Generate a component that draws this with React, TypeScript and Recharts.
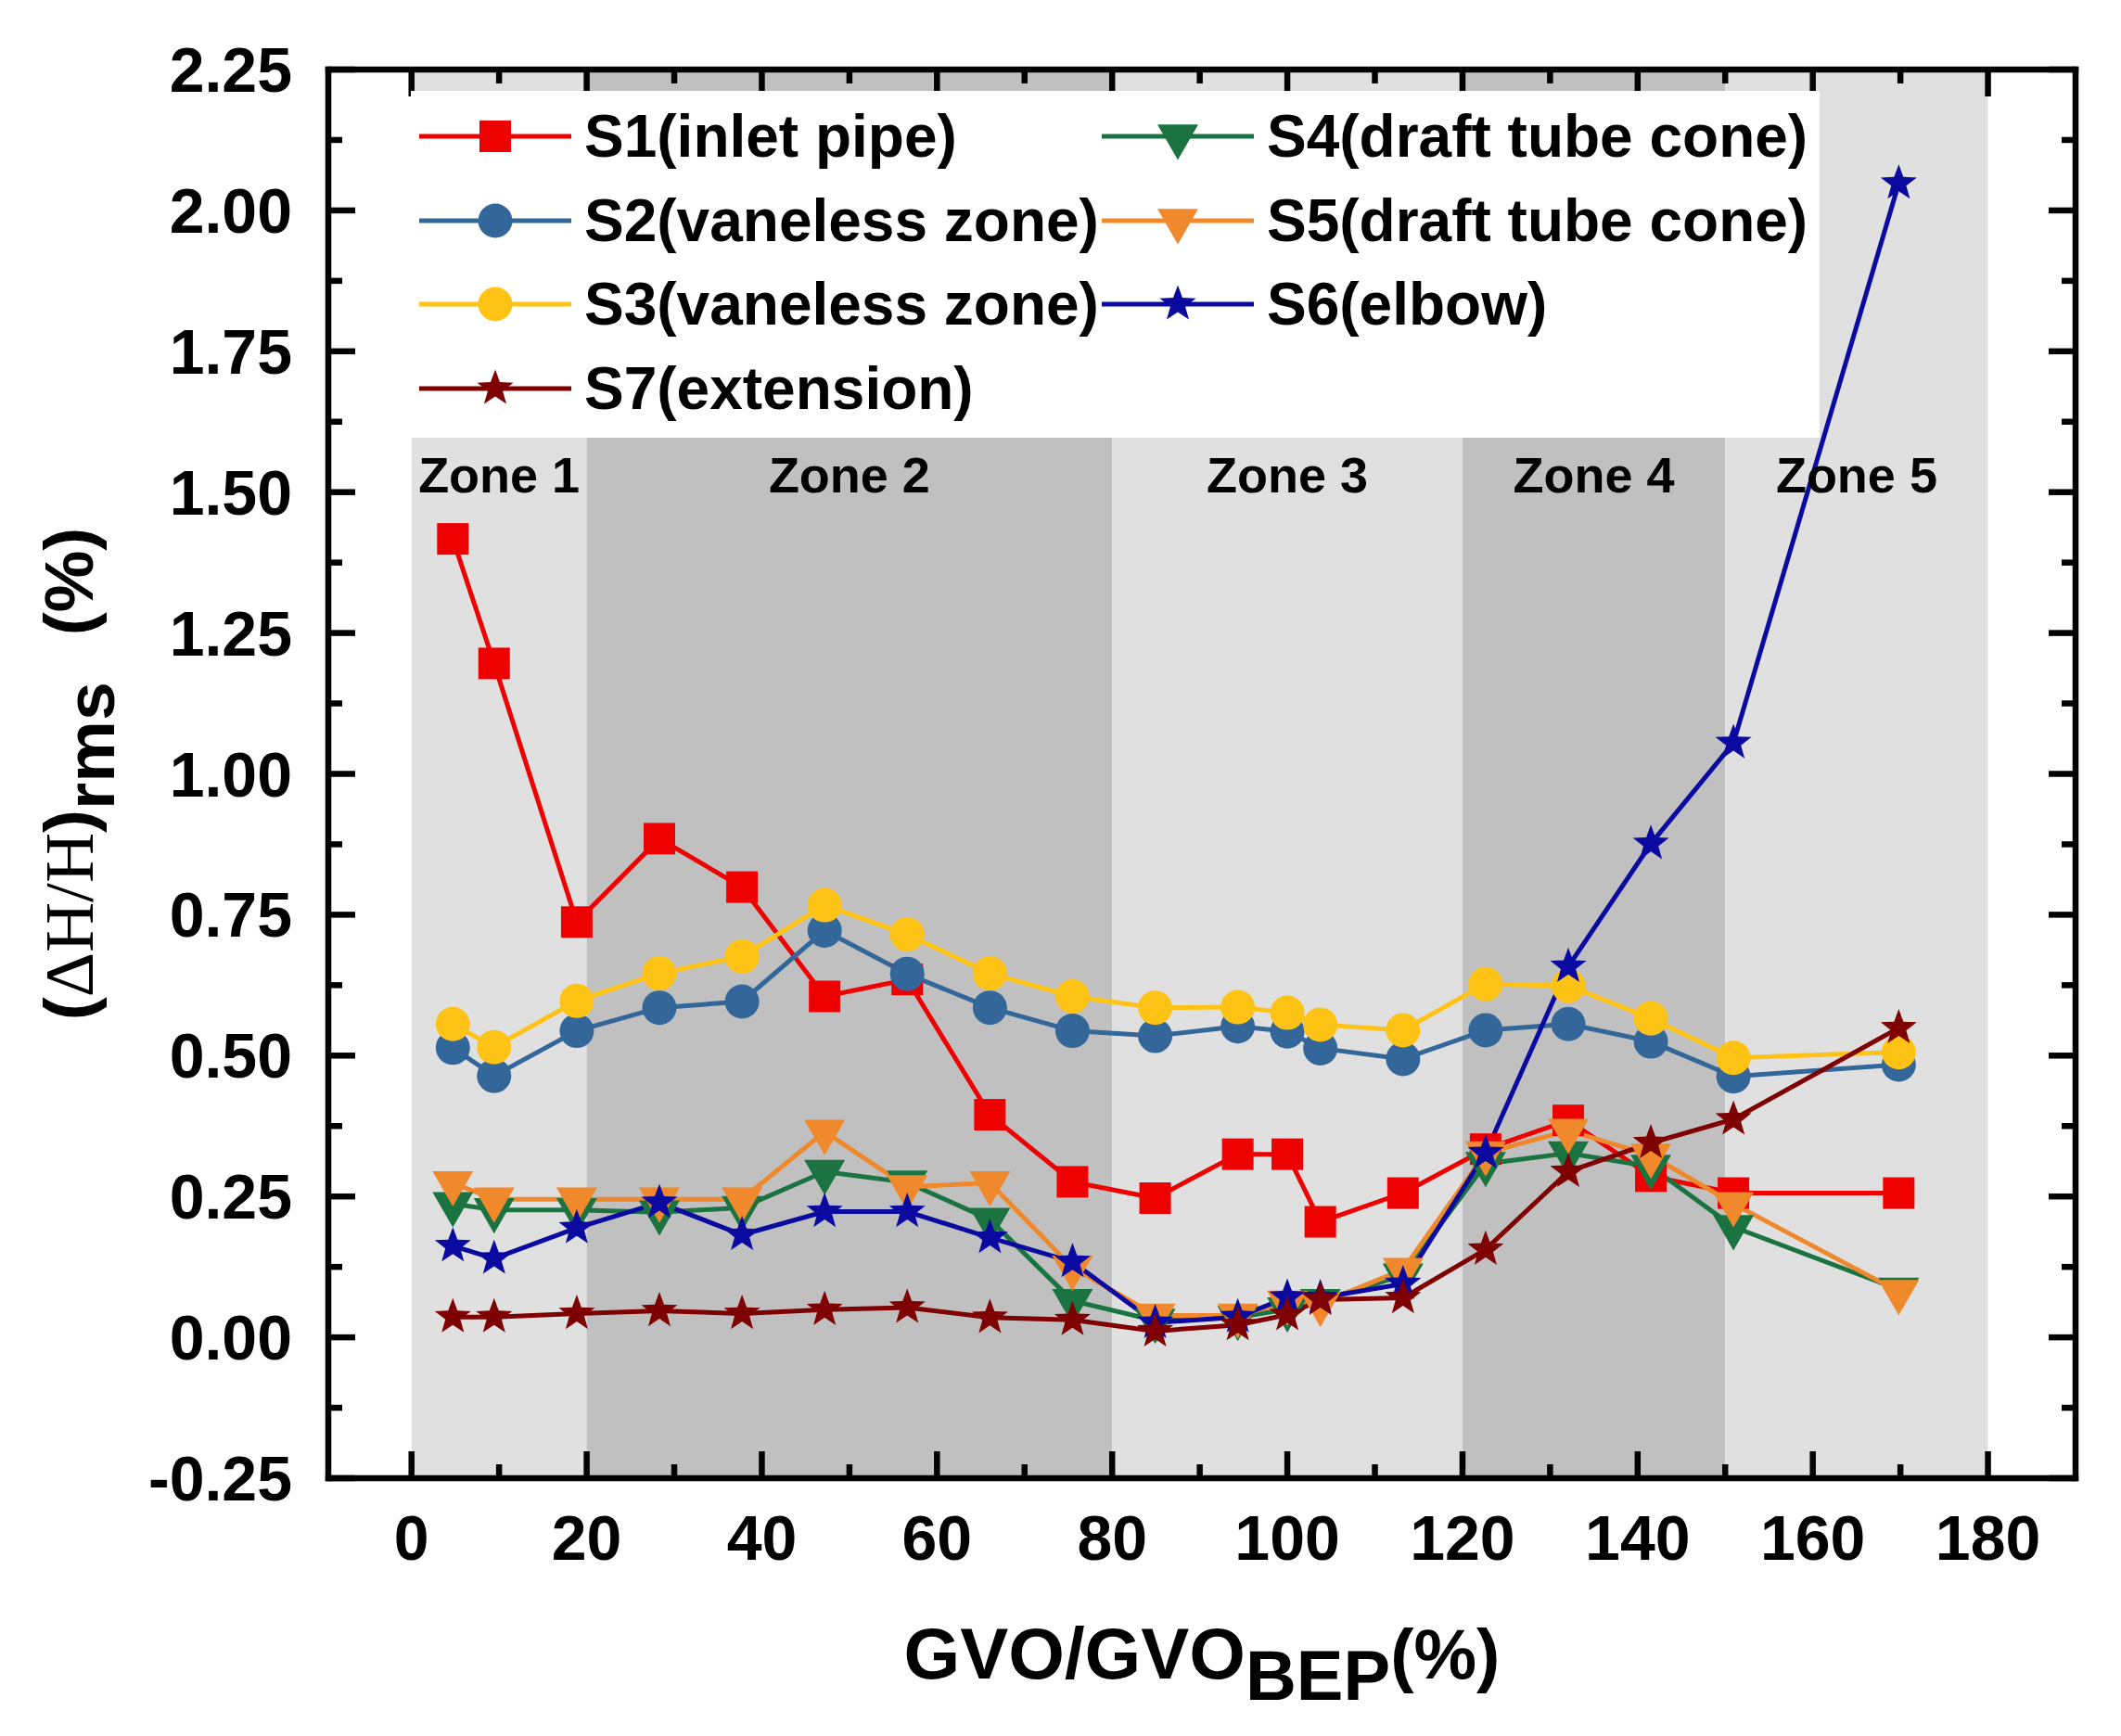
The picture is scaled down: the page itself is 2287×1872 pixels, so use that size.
import React from "react";
import { LineChart, Line, XAxis, YAxis, ReferenceArea, Legend } from "recharts";

// GVO / GVO_BEP (%) at each measured operating point
const GVO = [
  4.72, 9.43, 18.87, 28.3, 37.74, 47.17, 56.6, 66.04, 75.47, 84.91, 94.34, 100,
  103.77, 113.21, 122.64, 132.08, 141.51, 150.94, 169.81,
];

// (dH/H)rms in %
const S1_INLET = [
  1.417, 1.196, 0.737, 0.885, 0.799, 0.605, 0.635, 0.395, 0.276, 0.247, 0.325,
  0.325, 0.205, 0.256, 0.334, 0.385, 0.286, 0.256, 0.256,
];
const S2_VANELESS = [
  0.514, 0.464, 0.544, 0.585, 0.596, 0.722, 0.645, 0.585, 0.544, 0.535, 0.552,
  0.543, 0.513, 0.494, 0.545, 0.556, 0.525, 0.463, 0.484,
];
const S3_VANELESS = [
  0.556, 0.515, 0.597, 0.646, 0.676, 0.767, 0.715, 0.646, 0.605, 0.585, 0.586,
  0.576, 0.555, 0.545, 0.627, 0.624, 0.566, 0.496, 0.506,
];
const S4_CONE = [
  0.237, 0.226, 0.226, 0.222, 0.23, 0.294, 0.275, 0.209, 0.065, 0.03, 0.035,
  0.05, 0.065, 0.11, 0.308, 0.327, 0.303, 0.196, 0.085,
];
const S5_CONE = [
  0.274, 0.245, 0.245, 0.245, 0.245, 0.365, 0.267, 0.274, 0.124, 0.039, 0.039,
  0.062, 0.06, 0.12, 0.327, 0.367, 0.323, 0.237, 0.081,
];
const S6_ELBOW = [
  0.162, 0.14, 0.194, 0.239, 0.182, 0.223, 0.223, 0.177, 0.134, 0.026, 0.036,
  0.071, 0.07, 0.095, 0.327, 0.658, 0.876, 1.055, 2.048,
];
const S7_EXTENSION = [
  0.036, 0.036, 0.042, 0.047, 0.042, 0.049, 0.053, 0.035, 0.031, 0.011, 0.022,
  0.04, 0.067, 0.07, 0.156, 0.294, 0.345, 0.387, 0.549,
];

const X_TICKS = [0, 10, 20, 30, 40, 50, 60, 70, 80, 90, 100, 110, 120, 130, 140, 150, 160, 170, 180];
const X_MAJOR = [0, 20, 40, 60, 80, 100, 120, 140, 160, 180];
const Y_TICKS = [
  -0.25, -0.125, 0, 0.125, 0.25, 0.375, 0.5, 0.625, 0.75, 0.875, 1, 1.125, 1.25,
  1.375, 1.5, 1.625, 1.75, 1.875, 2, 2.125, 2.25,
];
const Y_MAJOR = [-0.25, 0, 0.25, 0.5, 0.75, 1, 1.25, 1.5, 1.75, 2, 2.25];
const Y_LABELS = ["-0.25", "0.00", "0.25", "0.50", "0.75", "1.00", "1.25", "1.50", "1.75", "2.00", "2.25"];

const ZONE_START = [0, 20, 80, 120, 150];
const ZONE_END = [20, 80, 120, 150, 180];
const ZONE_LABELS = ["Zone 1", "Zone 2", "Zone 3", "Zone 4", "Zone 5"];

const SERIES = [
  { key: "s1", name: "S1(inlet pipe)", values: S1_INLET, color: "#EE0000", marker: "square" },
  { key: "s2", name: "S2(vaneless zone)", values: S2_VANELESS, color: "#336699", marker: "circle" },
  { key: "s3", name: "S3(vaneless zone)", values: S3_VANELESS, color: "#FFC316", marker: "circle" },
  { key: "s4", name: "S4(draft tube cone)", values: S4_CONE, color: "#1A7340", marker: "triDown" },
  { key: "s5", name: "S5(draft tube cone)", values: S5_CONE, color: "#F0882C", marker: "triDown" },
  { key: "s6", name: "S6(elbow)", values: S6_ELBOW, color: "#0A0AA0", marker: "star" },
  { key: "s7", name: "S7(extension)", values: S7_EXTENSION, color: "#7F0000", marker: "star" },
];

// legend is laid out in rows of two, as in the figure
const LEGEND_ROWS = [
  ["s1", "s4"],
  ["s2", "s5"],
  ["s3", "s6"],
  ["s7"],
];

const rows = GVO.map((x, i) => {
  const row: Record<string, number> = { x };
  SERIES.forEach((s) => {
    row[s.key] = s.values[i];
  });
  return row;
});

const SANS = '"Liberation Sans", Arial, Helvetica, sans-serif';
const SERIF = '"Liberation Serif", "Times New Roman", serif';
const LIGHT = "#E0E0E0";
const DARK = "#C0C0C0";
const MAJOR_LEN = 29;
const MINOR_LEN = 15;
const TICK_W = 6.5;

function starPoints(cx: number, cy: number, R: number, r: number) {
  const pts: string[] = [];
  for (let i = 0; i < 10; i++) {
    const a = -Math.PI / 2 + (i * Math.PI) / 5;
    const rad = i % 2 === 0 ? R : r;
    pts.push(`${cx + rad * Math.cos(a)},${cy + rad * Math.sin(a)}`);
  }
  return pts.join(" ");
}

function Marker({ kind, cx, cy, color }: { kind: string; cx: number; cy: number; color: string }) {
  if (kind === "square") {
    return <rect x={cx - 17} y={cy - 17} width={34} height={34} fill={color} />;
  }
  if (kind === "circle") {
    return <circle cx={cx} cy={cy} r={18.5} fill={color} />;
  }
  if (kind === "triDown") {
    const side = 44;
    const h = side * 0.866;
    const pts = `${cx - side / 2},${cy - h / 3} ${cx + side / 2},${cy - h / 3} ${cx},${cy + (2 * h) / 3}`;
    return <polygon points={pts} fill={color} />;
  }
  return <polygon points={starPoints(cx, cy, 20.5, 8.5)} fill={color} />;
}

const isMajorX = (v: number) => X_MAJOR.includes(v);
const isMajorY = (v: number) => Y_MAJOR.some((m) => Math.abs(m - v) < 1e-9);

function BottomTick(props: any) {
  const { x, y, payload } = props;
  const major = isMajorX(payload.value);
  return (
    <g>
      <line x1={x} x2={x} y1={y} y2={y - (major ? MAJOR_LEN : MINOR_LEN)} stroke="#000" strokeWidth={TICK_W} />
      {major && (
        <text x={x} y={y + 88} textAnchor="middle" fontFamily={SANS} fontWeight="bold" fontSize={68} fill="#000">
          {payload.value}
        </text>
      )}
    </g>
  );
}

function TopTick(props: any) {
  const { x, y, payload } = props;
  const major = isMajorX(payload.value);
  return (
    <line x1={x} x2={x} y1={y} y2={y + (major ? MAJOR_LEN : MINOR_LEN)} stroke="#000" strokeWidth={TICK_W} />
  );
}

function LeftTick(props: any) {
  const { x, y, payload } = props;
  const major = isMajorY(payload.value);
  const idx = Y_MAJOR.findIndex((m) => Math.abs(m - payload.value) < 1e-9);
  return (
    <g>
      <line x1={x} x2={x + (major ? MAJOR_LEN : MINOR_LEN)} y1={y} y2={y} stroke="#000" strokeWidth={TICK_W} />
      {major && (
        <text x={x - 39} y={y} dy={24} textAnchor="end" fontFamily={SANS} fontWeight="bold" fontSize={68} fill="#000">
          {Y_LABELS[idx]}
        </text>
      )}
    </g>
  );
}

function RightTick(props: any) {
  const { x, y, payload } = props;
  const major = isMajorY(payload.value);
  return (
    <line x1={x} x2={x - (major ? MAJOR_LEN : MINOR_LEN)} y1={y} y2={y} stroke="#000" strokeWidth={TICK_W} />
  );
}

function renderXTitle(props: any) {
  const vb = props.viewBox || { x: 354, y: 1594, width: 1884, height: 278 };
  const cx = vb.x + vb.width / 2;
  const base = vb.y + 216;
  return (
    <text x={cx} y={base} textAnchor="middle" fontFamily={SANS} fontWeight="bold" fontSize={78} fill="#000">
      <tspan>GVO/GVO</tspan>
      <tspan dy={23} fontSize={76}>BEP</tspan>
      <tspan dy={-23} fontSize={76}>(%)</tspan>
    </text>
  );
}

function renderYTitle(props: any) {
  const vb = props.viewBox || { x: 0, y: 74, width: 354, height: 1520 };
  const cx = vb.x + 100;
  const cy = vb.y + vb.height / 2;
  return (
    <text
      x={cx}
      y={cy}
      transform={`rotate(-90 ${cx} ${cy})`}
      textAnchor="middle"
      fontFamily={SANS}
      fontWeight="bold"
      fontSize={75}
      fill="#000"
    >
      <tspan>(</tspan>
      <tspan fontFamily={SERIF} fontWeight="normal">ΔH/H</tspan>
      <tspan>)</tspan>
      <tspan dy={23}>rms</tspan>
      <tspan dy={-23} dx={50}>(%)</tspan>
    </text>
  );
}

function renderLegend(props: any) {
  const payload: any[] = props.payload || [];
  return (
    <div style={{ position: "relative", width: 1519, height: 374, background: "#fff" }}>
      {LEGEND_ROWS.map((row, r) =>
        row.map((key, c) => {
          const s = SERIES.find((d) => d.key === key)!;
          const entry = payload.find((p) => p.dataKey === key);
          const color = entry?.color || s.color;
          return (
            <div
              key={key}
              style={{
                position: "absolute",
                left: c === 0 ? 9 : 745,
                top: 49 + r * 90.5 - 40,
                height: 80,
                display: "flex",
                alignItems: "center",
              }}
            >
              <svg width={164} height={80} style={{ display: "block" }}>
                <line x1={0} x2={164} y1={40} y2={40} stroke={color} strokeWidth={5} />
                <Marker kind={s.marker} cx={82} cy={40} color={color} />
              </svg>
              <span
                style={{
                  marginLeft: 14,
                  fontFamily: SANS,
                  fontWeight: 700,
                  fontSize: 64,
                  lineHeight: "80px",
                  whiteSpace: "nowrap",
                  color: "#000",
                }}
              >
                {entry?.value || s.name}
              </span>
            </div>
          );
        })
      )}
    </div>
  );
}

const frameLine = { stroke: "#000", strokeWidth: 6.5, strokeLinecap: "square" as const };

export default function App() {
  return (
    <div style={{ width: 2287, height: 1872, background: "#fff" }}>
      <style>{"body{margin:0;}"}</style>
      <LineChart width={2287} height={1872} data={rows} margin={{ top: 74, right: 48, bottom: 0, left: 0 }}>
        {ZONE_START.map((start, i) => (
          <ReferenceArea
            key={ZONE_LABELS[i]}
            x1={start}
            x2={ZONE_END[i]}
            fill={i % 2 === 0 ? LIGHT : DARK}
            fillOpacity={1}
            stroke="none"
            label={{
              value: ZONE_LABELS[i],
              position: "insideTop",
              offset: 418,
              fill: "#000",
              fontSize: 54,
              fontWeight: "bold",
              fontFamily: SANS,
            }}
          />
        ))}
        <XAxis
          dataKey="x"
          type="number"
          domain={[-9.5, 190]}
          allowDataOverflow
          ticks={X_TICKS}
          interval={0}
          height={278}
          tickSize={0}
          tickMargin={0}
          tickLine={false}
          axisLine={frameLine}
          tick={BottomTick}
          label={renderXTitle}
        />
        <XAxis
          xAxisId="top"
          orientation="top"
          dataKey="x"
          type="number"
          domain={[-9.5, 190]}
          allowDataOverflow
          ticks={X_TICKS}
          interval={0}
          height={1}
          tickSize={0}
          tickMargin={0}
          tickLine={false}
          axisLine={frameLine}
          tick={TopTick}
        />
        <YAxis
          type="number"
          domain={[-0.25, 2.25]}
          allowDataOverflow
          ticks={Y_TICKS}
          interval={0}
          width={354}
          tickSize={0}
          tickMargin={0}
          tickLine={false}
          axisLine={frameLine}
          tick={LeftTick}
          label={renderYTitle}
        />
        <YAxis
          yAxisId="right"
          orientation="right"
          type="number"
          domain={[-0.25, 2.25]}
          allowDataOverflow
          ticks={Y_TICKS}
          interval={0}
          width={1}
          tickSize={0}
          tickMargin={0}
          tickLine={false}
          axisLine={frameLine}
          tick={RightTick}
        />
        <Legend
          layout="vertical"
          align="center"
          verticalAlign="middle"
          wrapperStyle={{ left: 443, top: 98, width: 1519, height: 374 }}
          content={renderLegend}
        />
        {SERIES.map((s) => (
          <Line
            key={s.key}
            dataKey={s.key}
            name={s.name}
            type="linear"
            stroke={s.color}
            strokeWidth={5}
            isAnimationActive={false}
            activeDot={false}
            dot={(p: any) => (
              <g key={`${s.key}-${p.index}`}>
                <Marker kind={s.marker} cx={p.cx} cy={p.cy} color={s.color} />
              </g>
            )}
          />
        ))}
      </LineChart>
    </div>
  );
}
